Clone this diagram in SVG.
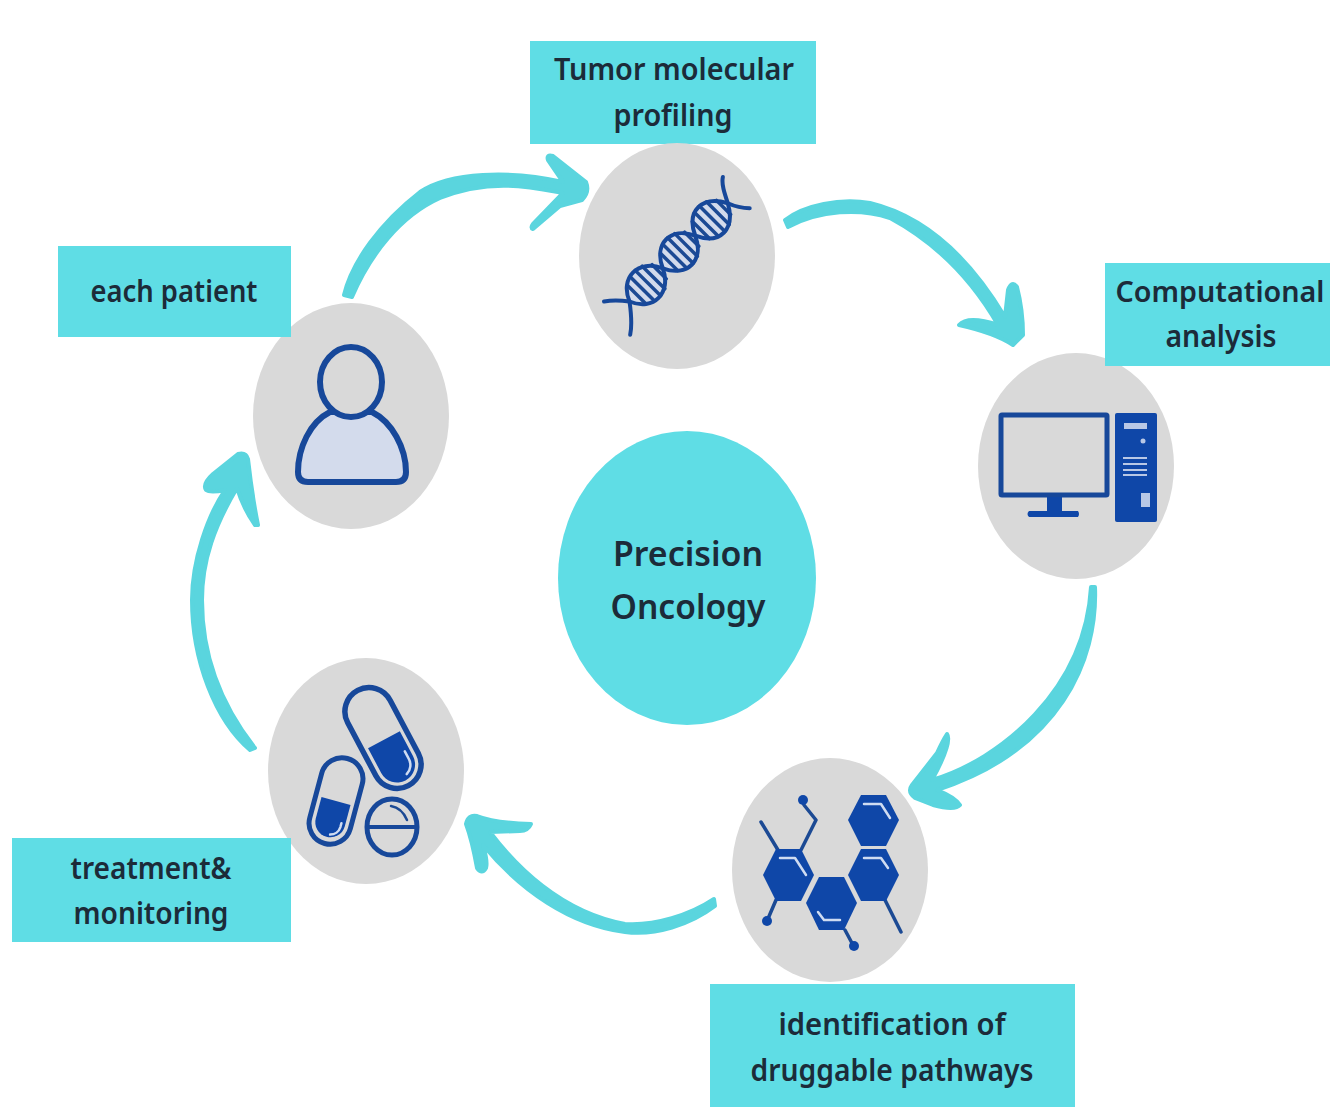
<svg xmlns="http://www.w3.org/2000/svg" width="1330" height="1107" viewBox="0 0 1330 1107">
<defs>
<style>
.box{fill:#5fdde5}
.disc{fill:#d9d9d9}
.t{font-family:"Noto Sans","Liberation Sans",sans-serif;font-weight:600;font-size:30px;fill:#1c2b39;text-anchor:middle}
.c{font-size:35px}
.arrow{fill:#5ad5de;stroke:#5ad5de;stroke-width:4;stroke-linejoin:round}
.ln{fill:none;stroke:#17489a;stroke-width:5;stroke-linecap:round;stroke-linejoin:round}
.thin{fill:none;stroke:#1c4a94;stroke-width:3.5;stroke-linecap:round;stroke-linejoin:round}
.solid{fill:#0f47a8}
.hi{fill:none;stroke:#cfdcf2;stroke-width:2.5;stroke-linecap:round;stroke-linejoin:round}
.lite{fill:#d3dbec}
</style>
</defs>
<rect width="1330" height="1107" fill="#ffffff"/>
<g id="connectors">
<path class="arrow" d="M344,295C352,262 380,223 420,192C450,172 510,170 563,182L548,160Q546,154 553,156L586,182Q590,192 582,200L560,206L533,229Q530,228 533,224L563,193C530,187 490,178 440,198C400,216 370,255 352,297Z"/>
<path class="arrow" d="M785,220C805,205 840,198 870,203C920,215 965,250 1005,317L1008,290Q1012,280 1017,287Q1023,310 1023,335L1013,345Q995,333 959,325Q968,315 998,325C975,285 940,245 890,218C860,208 820,210 788,227Z"/>
<path class="arrow" d="M1095,587C1098,660 1060,750 937,790Q955,797 960,805Q955,811 933,805L915,798Q907,792 912,785L937,753Q943,740 947,734Q953,742 932,780C1000,760 1085,690 1091,587Z"/>
<path class="arrow" d="M715,906C690,925 655,936 625,932C570,925 520,890 483,845Q488,862 486,868Q482,875 477,868Q472,840 466,824Q468,814 477,816Q495,823 531,824Q528,831 520,831L490,832C515,865 560,912 625,924C655,926 690,915 714,899Z"/>
<path class="arrow" d="M250,750C215,720 192,660 192,600C192,560 208,515 225,490Q210,493 206,490Q202,484 213,474L238,454Q246,452 248,459Q252,495 258,525L255,525Q243,508 237,488C215,525 202,560 202,600C202,660 225,710 255,748Z"/>
</g>
<g id="node-center">
<ellipse cx="687" cy="578" rx="129" ry="147" class="box"/>
<text class="t c" x="688" y="566" textLength="150" lengthAdjust="spacingAndGlyphs">Precision</text>
<text class="t c" x="688" y="619" textLength="155" lengthAdjust="spacingAndGlyphs">Oncology</text>
</g>
<g id="node-profiling">
<rect x="530" y="41" width="286" height="103" class="box"/>
<text class="t" x="674" y="80" textLength="240" lengthAdjust="spacingAndGlyphs">Tumor molecular</text>
<text class="t" x="673" y="126" textLength="119" lengthAdjust="spacingAndGlyphs">profiling</text>
<ellipse cx="677" cy="256" rx="98" ry="113" class="disc"/>
<g transform="translate(679,252) rotate(-45)">
<g class="lite">
<ellipse cx="-46" cy="0" rx="24" ry="18"/>
<ellipse cx="0" cy="0" rx="24" ry="18"/>
<ellipse cx="45" cy="0" rx="24" ry="18"/>
</g>
<path class="thin" d="M-60,-12V12M-52,-16V16M-44,-18V18M-36,-16V16M-28,-10V10M-14,-12V12M-6,-17V17M2,-18V18M10,-16V16M18,-10V10M31,-12V12M39,-17V17M47,-18V18M55,-16V16M63,-10V10"/>
<path class="ln" style="stroke-width:4" d="M-88,-18C-82,-14 -76,-8 -70,0C-60,24 -34,24 -23,0C-12,-24 12,-24 23,0C34,24 56,24 69,0C74,-10 78,-18 84,-22"/>
<path class="ln" style="stroke-width:4" d="M-93,24C-84,18 -76,8 -70,0C-60,-24 -34,-24 -23,0C-12,24 12,24 23,0C34,-24 56,-24 69,0C72,8 76,14 81,19"/>
</g>
</g>
<g id="node-analysis">
<ellipse cx="1076" cy="466" rx="98" ry="113" class="disc"/>
<rect x="1105" y="263" width="225" height="103" class="box"/>
<text class="t" style="font-size:28.5px" x="1220" y="302" textLength="209" lengthAdjust="spacingAndGlyphs">Computational</text>
<text class="t" x="1221" y="347" textLength="111" lengthAdjust="spacingAndGlyphs">analysis</text>
<rect x="1001" y="415" width="106" height="80" rx="1" fill="none" stroke="#17489a" stroke-width="5"/>
<path class="solid" d="M1047,497H1062V511H1078Q1080,514 1078,517H1029Q1026,514 1029,511H1047Z"/>
<rect class="solid" x="1115" y="413" width="42" height="109" rx="2"/>
<g fill="#b8c8e6">
<rect x="1124" y="423" width="23" height="6"/>
<circle cx="1143" cy="441" r="2.5"/>
<rect x="1123" y="457" width="24" height="2"/>
<rect x="1123" y="463" width="24" height="2"/>
<rect x="1123" y="469" width="24" height="2"/>
<rect x="1123" y="474" width="24" height="2"/>
<rect x="1141" y="493" width="9" height="14"/>
</g>
</g>
<g id="node-pathways">
<ellipse cx="830" cy="870" rx="98" ry="112" class="disc"/>
<rect x="710" y="984" width="365" height="123" class="box"/>
<text class="t" x="892" y="1035" textLength="227" lengthAdjust="spacingAndGlyphs">identification of</text>
<text class="t" x="892" y="1081" textLength="283" lengthAdjust="spacingAndGlyphs">druggable pathways</text>
<path class="thin" d="M761,822L778,850M801,850L816,820L804,805L803,799M776,900L767,921M845,930L853,945M885,900L901,932"/>
<circle class="solid" cx="803" cy="800" r="5"/>
<circle class="solid" cx="767" cy="921" r="5"/>
<circle class="solid" cx="854" cy="946" r="5"/>
<g class="solid">
<polygon points="763,875 776,849 801,849 814,875 801,901 776,901"/>
<polygon points="806,903 819,877 844,877 857,903 844,930 819,930"/>
<polygon points="848,875 861,849 886,849 899,875 886,901 861,901"/>
<polygon points="848,820 861,795 886,795 899,820 886,846 861,846"/>
</g>
<path class="hi" d="M780,858H795L806,875M818,912L824,920H840M864,858H881L888,868M864,804H881L890,818"/>
</g>
<g id="node-treatment">
<ellipse cx="366" cy="771" rx="98" ry="113" class="disc"/>
<rect x="12" y="838" width="279" height="104" class="box"/>
<text class="t" x="151" y="879" textLength="161" lengthAdjust="spacingAndGlyphs">treatment&amp;</text>
<text class="t" x="151" y="924" textLength="155" lengthAdjust="spacingAndGlyphs">monitoring</text>
<g transform="translate(383,738) rotate(-28)">
<path class="solid" d="M-18,2H18V30A18,18 0 0 1 -18,30Z"/>
<rect x="-24" y="-54" width="48" height="108" rx="24" fill="none" stroke="#17489a" stroke-width="5.5"/>
<path class="hi" d="M13,22V30A13,13 0 0 1 4,43"/>
</g>
<g transform="translate(336,801) rotate(15)">
<path class="solid" d="M-15,0H15V22A15,15 0 0 1 -15,22Z"/>
<rect x="-21" y="-44" width="42" height="88" rx="21" fill="none" stroke="#17489a" stroke-width="5"/>
<path class="hi" d="M11,20V24A11,11 0 0 1 3,34"/>
</g>
<ellipse cx="392" cy="827" rx="25" ry="28" fill="none" stroke="#17489a" stroke-width="5"/>
<path class="ln" style="stroke-width:4" d="M368,827H416"/>
<path class="thin" style="stroke-width:2.5" d="M391,806Q402,808 407,820"/>
</g>
<g id="node-patient">
<ellipse cx="351" cy="416" rx="98" ry="113" class="disc"/>
<rect x="58" y="246" width="233" height="91" class="box"/>
<text class="t" x="174" y="302" textLength="167" lengthAdjust="spacingAndGlyphs">each patient</text>
<path class="lite ln" style="stroke-width:6" d="M330,412C310,422 298,448 298,472Q298,482 308,482H396Q406,482 406,472C406,448 392,422 372,412Z"/>
<ellipse cx="351" cy="382" rx="31" ry="35" fill="#d9d9d9" stroke="#17489a" stroke-width="6"/>
</g>
</svg>
